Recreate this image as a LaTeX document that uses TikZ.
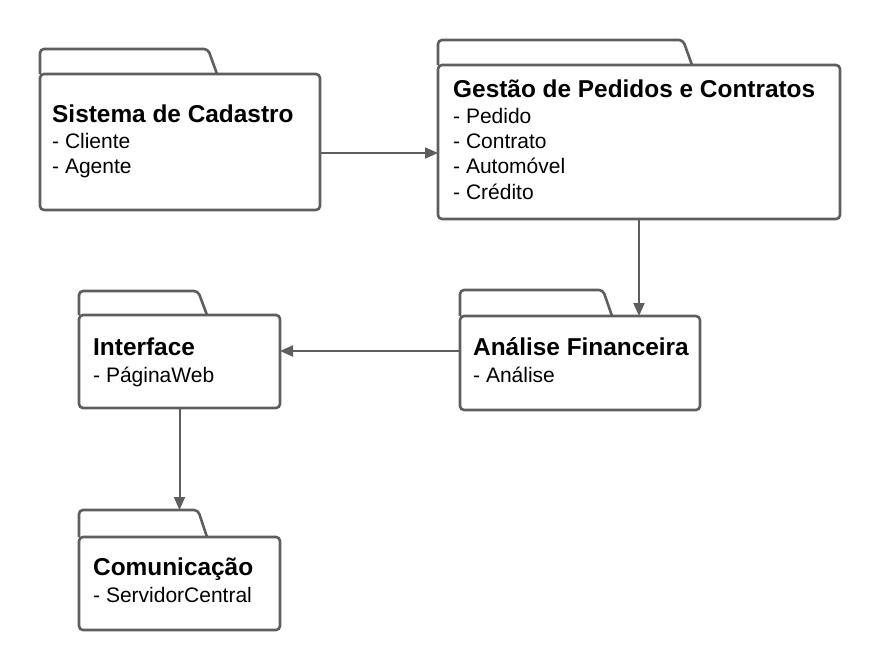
\documentclass[tikz,border=0pt]{standalone}
\usepackage{fontspec}
\setmainfont{Liberation Sans}
\usetikzlibrary{arrows.meta,calc}
\definecolor{pk}{RGB}{94,94,94}
\tikzset{
  body/.style={draw=pk, line width=2.6pt, rounded corners=4pt, fill=white, anchor=north west, inner sep=0pt, outer sep=0pt},
  tabshape/.style={draw=pk, line width=2.6pt, rounded corners=4pt, fill=white},
  ttl/.style={anchor=base west, inner sep=0pt, font=\fontsize{24.4}{28}\selectfont\bfseries},
  itm/.style={anchor=base west, inner sep=0pt, font=\fontsize{21}{25}\selectfont},
  arr/.style={draw=pk, line width=2pt, -{Triangle[length=13pt,width=11pt]}},
}
% name, x1, tabtop, bodytop, x2, bottom, tab right x
\newcommand\pkgbox[7]{%
  \draw[tabshape] (#2,#4) -- (#2,#3) -- (#7,#3) -- (#7+9,#4);
  \node[body, minimum width={(#5-#2)*1pt}, minimum height={(#6-#4)*1pt}] (#1) at (#2,#4) {};
  \coordinate (#1tab) at (#2,#3);
}
\begin{document}
\begin{tikzpicture}[x=1pt,y=-1pt]
\useasboundingbox (0,0) rectangle (880,670);

\pkgbox{A}{40}{49}{74}{320}{210}{208}
\pkgbox{B}{438}{40}{65}{840}{219}{683}
\pkgbox{C}{460}{290}{316}{700}{410}{603}
\pkgbox{D}{79}{291}{315}{280}{408}{198}
\pkgbox{E}{79}{510}{537}{280}{630}{198}

\node[ttl] (At) at (52,122) {Sistema de Cadastro};
\node[itm] (A1) at (52,148) {- Cliente};
\node[itm] (A2) at (52,173) {- Agente};

\node[ttl] (Bt) at (453,97) {Gestão de Pedidos e Contratos};
\node[itm] (B1) at (453,123) {- Pedido};
\node[itm] (B2) at (453,148) {- Contrato};
\node[itm] (B3) at (453,173) {- Automóvel};
\node[itm] (B4) at (453,199) {- Crédito};

\node[ttl] (Ct) at (473,355) {Análise Financeira};
\node[itm] (C1) at (473,382) {- Análise};

\node[ttl] (Dt) at (93,355) {Interface};
\node[itm] (D1) at (93,382) {- PáginaWeb};

\node[ttl] (Et) at (93,575) {Comunicação};
\node[itm] (E1) at (93,602) {- ServidorCentral};

\draw[arr] ([yshift=-11pt]A.east) -- ([yshift=-11pt]A.east -| B.west);
\draw[arr] (B.south) -- (B.south |- C.north);
\draw[arr] ([yshift=12pt]C.west) -- ([yshift=12pt]C.west -| D.east);
\draw[arr] (D.south) -- (D.south |- Etab);
\end{tikzpicture}
\end{document}
